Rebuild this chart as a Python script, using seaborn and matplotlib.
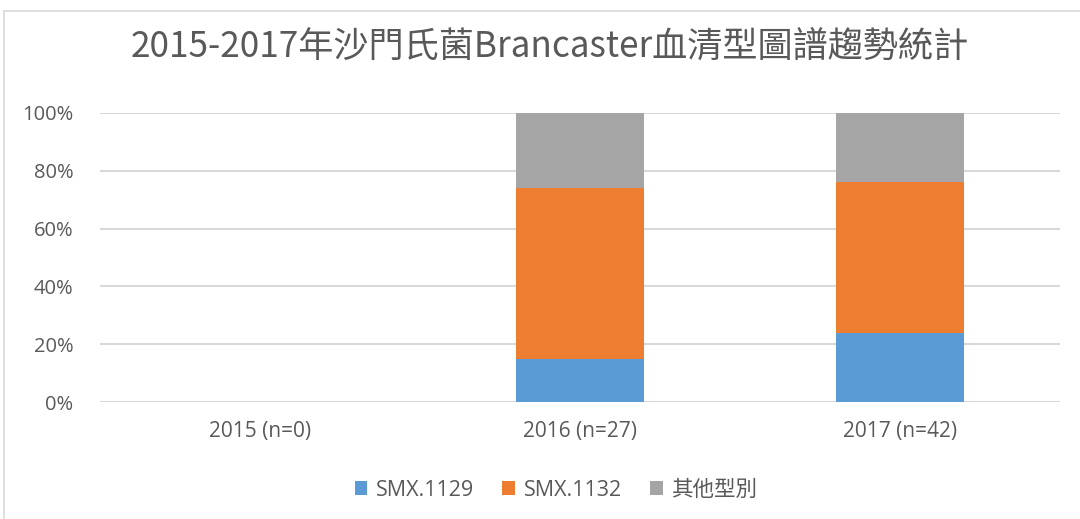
import matplotlib
matplotlib.use("Agg")
import matplotlib.pyplot as plt
from matplotlib.patches import Rectangle, Patch
import seaborn as sns
import pandas as pd

# data (percent of isolates per year)
years = ["2015 (n=0)", "2016 (n=27)", "2017 (n=42)"]
smx_1129 = [0.0, 14.8, 23.8]
smx_1132 = [0.0, 59.3, 52.4]
others = [0.0, 25.9, 23.8]
series_names = ["SMX.1129", "SMX.1132", "其他型別"]
series_colors = ["#5B9BD5", "#ED7D31", "#A5A5A5"]
title = "2015-2017年沙門氏菌Brancaster血清型圖譜趨勢統計"

sns.set_style("white")
plt.rcParams['font.family'] = ['Open Sans', 'Noto Sans CJK TC', 'DejaVu Sans']

df = pd.DataFrame({"year": years, "s1": smx_1129, "s2": smx_1132, "s3": others})
df["c1"] = df["s1"] / 100
df["c2"] = (df["s1"] + df["s2"]) / 100
df["c3"] = (df["s1"] + df["s2"] + df["s3"]) / 100

fig = plt.figure(figsize=(10.8, 5.19), dpi=100)
W, H = 1080, 519
ax = fig.add_axes([100 / W, 1 - 402 / H, 960 / W, 289 / H])

# chart frame
fig.patches.append(Rectangle((4 / W, -0.1), 1.2, 1 - 11 / H + 0.1, transform=fig.transFigure,
                             fill=False, edgecolor="#D9D9D9", linewidth=1.2))

# stacked bars: draw cumulative totals from top to bottom
for col, color in zip(["c3", "c2", "c1"], series_colors[::-1]):
    sns.barplot(data=df, x="year", y=col, color=color, width=0.4, ax=ax,
                saturation=1, edgecolor="none", zorder=3)

ax.set_ylim(0, 1)
ax.set_xlim(-0.5, 2.5)
ax.set_yticks([0, 0.2, 0.4, 0.6, 0.8, 1.0])
ax.set_yticklabels(["0%", "20%", "40%", "60%", "80%", "100%"])
ax.yaxis.grid(True, color="#D9D9D9", linewidth=1.5, zorder=0)
ax.set_axisbelow(True)
for s in ax.spines.values():
    s.set_visible(False)
ax.tick_params(axis="both", length=0, labelcolor="#595959")
ax.tick_params(axis="y", pad=19, labelsize=14.5)
ax.tick_params(axis="x", pad=14, labelsize=15)
ax.set_xlabel("")
ax.set_ylabel("")

fig.text(550 / W, 1 - 48 / H, title, ha="center", va="center", fontsize=25.3,
         color="#595959", family=['Noto Sans CJK TC', 'DejaVu Sans'])

handles = [Patch(facecolor=c, edgecolor="none") for c in series_colors]
fig.legend(handles, series_names, loc="center", bbox_to_anchor=(556 / W, 1 - 490 / H),
           ncol=3, frameon=False, fontsize=15.5, handlelength=0.6, handleheight=0.6,
           handletextpad=0.4, columnspacing=1.3, labelcolor="#595959")

fig.savefig("out.png", dpi=100)
